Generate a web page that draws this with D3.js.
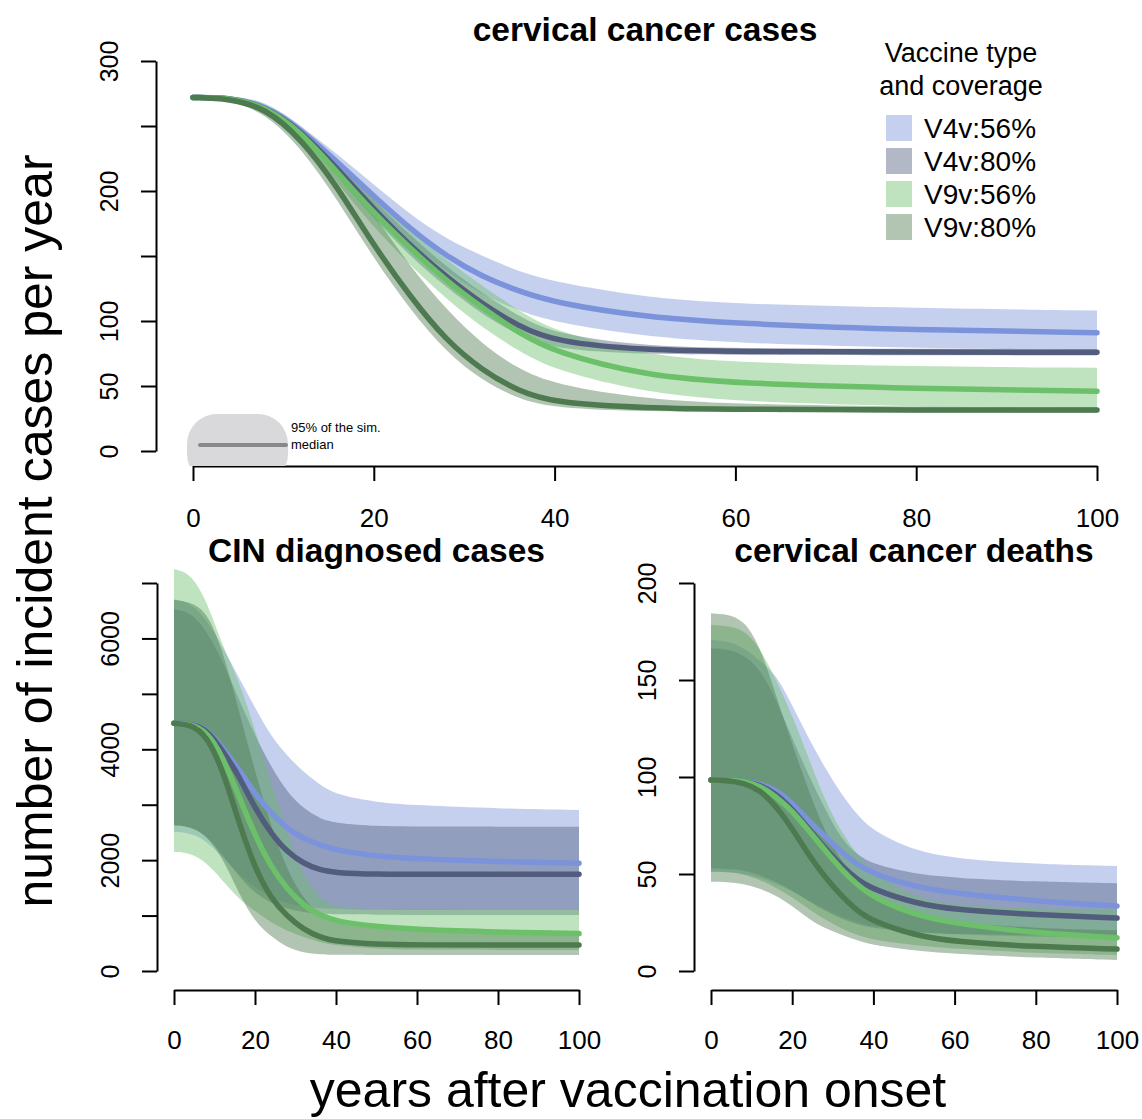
<!DOCTYPE html>
<html><head><meta charset="utf-8">
<script src="https://cdn.jsdelivr.net/npm/d3@7"></script>
<style>
body{margin:0;background:#fff;}
svg{display:block;font-family:"Liberation Sans",Arial,Helvetica,sans-serif;}
</style></head>
<body>
<svg id="chart" width="1142" height="1119"></svg>
<script>
// ---------------- data ----------------
const years = [0,4,8,12,16,20,24,28,32,36,40,50,60,80,100];
const seriesNames = ["V4v:56%","V4v:80%","V9v:56%","V9v:80%"];
const lineColors = ["#7b93db","#525d7d","#6cc06a","#4e7a4f"];

// cervical cancer cases
const cases_V4v56_med = [272,272,266,247,222,196,171,150,134,123,114,103,98,93,91];
const cases_V4v56_lo  = [271,271,262,243,216,187,160,138,120,108,99,88,83,79,78];
const cases_V4v56_hi  = [273,273,270,250,228,205,182,163,150,138,130,118,113,110,108];
const cases_V4v80_med = [272,272,265,246,217,186,158,134,113,96,84,77.5,76.5,76,76];
const cases_V4v80_lo  = [271,271,262,242,211,179,150,126,105,89,78,74.5,74,73.5,73.5];
const cases_V4v80_hi  = [273,273,268,250,223,193,166,142,121,104,90,80.5,79,78.5,78.5];
const cases_V9v56_med = [272,272,265,245,214,183,156,131,110,91,76,58,52,48,46];
const cases_V9v56_lo  = [271,271,262,240,206,172,143,117,95,77,62,45,38,34,33];
const cases_V9v56_hi  = [273,273,268,250,222,194,170,147,127,108,92,74,68,65,64];
const cases_V9v80_med = [272,271,264,240,203,158,119,85,62,46,37,33,32,31.5,31.5];
const cases_V9v80_lo  = [271,270,260,233,193,148,109,76,54,40,33,30.5,30,29.5,29.5];
const cases_V9v80_hi  = [273,272,268,250,220,182,142,109,82,63,51,40,36,34,33.5];

// CIN diagnosed cases
const cin_V4v56_med = [4470,4465,4380,4030,3640,3190,2850,2560,2390,2270,2180,2070,2020,1970,1945];
const cin_V4v56_hi  = [6700,6650,6350,5850,5300,4750,4230,3880,3590,3360,3180,3040,2990,2930,2905];
const cin_V4v56_lo  = [2510,2490,2350,2050,1750,1500,1330,1220,1160,1130,1115,1105,1100,1100,1100];
const cin_V4v80_med = [4470,4465,4370,3980,3530,2930,2480,2140,1940,1820,1770,1745,1745,1745,1745];
const cin_V4v80_hi  = [6525,6480,6150,5600,4900,4250,3680,3220,2930,2750,2665,2610,2605,2603,2603];
const cin_V4v80_lo  = [2630,2610,2450,2100,1700,1400,1220,1120,1060,1035,1022,1015,1012,1010,1010];
const cin_V9v56_med = [4470,4460,4330,3880,3150,2450,1870,1470,1180,1010,890,800,745,700,675];
const cin_V9v56_hi  = [7250,7180,6700,5850,5250,4350,3400,2480,1720,1310,1140,1110,1105,1100,1100];
const cin_V9v56_lo  = [2150,2130,1960,1630,1300,1080,870,720,610,520,460,400,385,380,379];
const cin_V9v80_med = [4470,4450,4260,3640,2680,1850,1300,980,750,610,530,480,470,468,468];
const cin_V9v80_hi  = [6700,6650,6500,5800,4700,3600,2600,1800,1300,1000,850,760,730,715,709];
const cin_V9v80_lo  = [2630,2610,2450,2050,1400,880,620,420,330,300,292,290,289,289,289];

// cervical cancer deaths
const deaths_V4v56_med = [98.5,98.4,97.8,96.5,93.5,86.5,77.5,69.5,61.5,54.8,50,43.5,40,36,33.5];
const deaths_V4v56_hi  = [170.6,170,167,160,153,137,120,105,91.5,80.5,72,62,58,55,54.1];
const deaths_V4v56_lo  = [51.2,51,50.3,48,45,41,36.5,32,28,25,23,20,18.8,17.5,17];
const deaths_V4v80_med = [98.5,98.4,97.8,96,91.5,83.5,73.5,63.5,54.5,47,42,35,31.5,29,27.3];
const deaths_V4v80_hi  = [166.3,166,163,156,140,120,101,84,68,60,55,50,48,46,45.2];
const deaths_V4v80_lo  = [52.9,52.7,52,49.5,46,41.5,36,31,27,24,22,20,19,18.3,18];
const deaths_V9v56_med = [98.5,98.4,97.8,95.5,90,82.5,72.5,62.5,52.5,44.5,37.8,29,24.5,19.5,17.2];
const deaths_V9v56_hi  = [178.4,178,176,167,150,132,110,88,72,60,50,38,34,32,31.4];
const deaths_V9v56_lo  = [51.2,51,50,47,43,38,32,26.5,22,18.5,16,13.3,11.5,9.2,8.2];
const deaths_V9v80_med = [98.5,98.3,97,93.5,85,73.5,60,48.5,39,31,25.5,18.5,15,12.5,11.3];
const deaths_V9v80_hi  = [184.4,184,181,168,142,117,93,72,57,46,38.5,29,25,22,21];
const deaths_V9v80_lo  = [46,45.8,45,42.5,39,33.5,27,22,18.8,15.7,13.3,10.5,8.8,6.8,5.7];

// ticks
const xTicks = [0,20,40,60,80,100];
const casesYTicks = [0,50,100,150,200,250,300];
const casesYLabels = ["0","50","100","","200","","300"];
const cinYTicks = [0,1000,2000,3000,4000,5000,6000,7000];
const cinYLabels = ["0","","2000","","4000","","6000",""];
const deathsYTicks = [0,50,100,150,200];
const deathsYLabels = ["0","50","100","150","200"];

// ---------------- drawing ----------------
const svg = d3.select("#chart");
const FILL_OP = 0.44;

function build(med, lo, hi){
  return years.map((y,i)=>({x:y, m:med[i], l:lo[i], h:hi[i]}));
}

function panel(o){
  const x = d3.scaleLinear().domain([0,100]).range(o.xr);
  const y = d3.scaleLinear().domain(o.yd).range(o.yr);
  const g = svg.append("g");
  const area = d3.area().curve(d3.curveBasis)
    .x(d=>x(d.x)).y0(d=>y(d.l)).y1(d=>y(d.h));
  const line = d3.line().curve(d3.curveBasis)
    .x(d=>x(d.x)).y(d=>y(d.m));
  o.series.forEach((s,i)=>{
    g.append("path").attr("d",area(s)).attr("fill",lineColors[i])
      .attr("fill-opacity",FILL_OP).attr("stroke","none");
  });
  o.series.forEach((s,i)=>{
    g.append("path").attr("d",line(s)).attr("fill","none")
      .attr("stroke",lineColors[i]).attr("stroke-width",5.5)
      .attr("stroke-linecap","round");
  });
  // y axis
  const ya = svg.append("g").attr("transform",`translate(${o.yAxisX},0)`)
    .call(d3.axisLeft(y).tickValues(o.yTicks).tickSize(15).tickSizeOuter(0)
      .tickFormat((d,i)=>o.yLabels[i]));
  ya.selectAll("text").attr("x",0).attr("dy",0).attr("text-anchor","middle")
    .attr("transform","translate(-38,0) rotate(-90)")
    .attr("font-size",25).attr("fill","#000")
    .style("font-family",'"Liberation Sans",Arial,sans-serif');
  // x axis
  const xa = svg.append("g").attr("transform",`translate(0,${o.xAxisY})`)
    .call(d3.axisBottom(x).tickValues(xTicks).tickSize(15).tickSizeOuter(0));
  xa.selectAll("text").attr("y",o.xLabY).attr("dy",0)
    .attr("font-size",26).attr("fill","#000")
    .style("font-family",'"Liberation Sans",Arial,sans-serif');
  [ya,xa].forEach(a=>{
    a.selectAll("path,line").attr("stroke","#000").attr("stroke-width",2);
  });
  svg.append("text").attr("x",(o.xr[0]+o.xr[1])/2).attr("y",o.titleY)
    .attr("text-anchor","middle").attr("font-weight","bold")
    .attr("font-size",33.5).text(o.title);
  return {x,y};
}

panel({
  xr:[193,1097], yd:[0,300], yr:[451,61], yAxisX:156, xAxisY:466, xLabY:61,
  yTicks:casesYTicks, yLabels:casesYLabels, titleY:41,
  title:"cervical cancer cases",
  series:[build(cases_V4v56_med,cases_V4v56_lo,cases_V4v56_hi),
          build(cases_V4v80_med,cases_V4v80_lo,cases_V4v80_hi),
          build(cases_V9v56_med,cases_V9v56_lo,cases_V9v56_hi),
          build(cases_V9v80_med,cases_V9v80_lo,cases_V9v80_hi)]
});
panel({
  xr:[174,579], yd:[0,7000], yr:[971,583], yAxisX:157, xAxisY:990, xLabY:59,
  yTicks:cinYTicks, yLabels:cinYLabels, titleY:562,
  title:"CIN diagnosed cases",
  series:[build(cin_V4v56_med,cin_V4v56_lo,cin_V4v56_hi),
          build(cin_V4v80_med,cin_V4v80_lo,cin_V4v80_hi),
          build(cin_V9v56_med,cin_V9v56_lo,cin_V9v56_hi),
          build(cin_V9v80_med,cin_V9v80_lo,cin_V9v80_hi)]
});
panel({
  xr:[711,1117], yd:[0,200], yr:[971,583], yAxisX:694, xAxisY:990, xLabY:59,
  yTicks:deathsYTicks, yLabels:deathsYLabels, titleY:562,
  title:"cervical cancer deaths",
  series:[build(deaths_V4v56_med,deaths_V4v56_lo,deaths_V4v56_hi),
          build(deaths_V4v80_med,deaths_V4v80_lo,deaths_V4v80_hi),
          build(deaths_V9v56_med,deaths_V9v56_lo,deaths_V9v56_hi),
          build(deaths_V9v80_med,deaths_V9v80_lo,deaths_V9v80_hi)]
});

// legend
const lg = svg.append("g");
lg.append("text").attr("x",961).attr("y",62).attr("text-anchor","middle")
  .attr("font-size",27).text("Vaccine type");
lg.append("text").attr("x",961).attr("y",95).attr("text-anchor","middle")
  .attr("font-size",27).text("and coverage");
seriesNames.forEach((n,i)=>{
  const cy = 128 + i*33;
  lg.append("rect").attr("x",886).attr("y",cy-13).attr("width",26).attr("height",26)
    .attr("fill",lineColors[i]).attr("fill-opacity",FILL_OP);
  lg.append("text").attr("x",924).attr("y",cy+10).attr("font-size",28).text(n);
});

// small band/median key
svg.append("clipPath").attr("id","keyclip").append("rect")
  .attr("x",150).attr("y",380).attr("width",200).attr("height",86);
svg.append("rect").attr("x",187).attr("y",414).attr("width",101).attr("height",70)
  .attr("rx",30).attr("ry",30).attr("fill","#d9d9db").attr("clip-path","url(#keyclip)");
svg.append("line").attr("x1",200).attr("x2",286).attr("y1",445).attr("y2",445)
  .attr("stroke","#888").attr("stroke-width",4).attr("stroke-linecap","round");
svg.append("text").attr("x",291).attr("y",432).attr("font-size",13).text("95% of the sim.");
svg.append("text").attr("x",291).attr("y",449).attr("font-size",13).text("median");

// axis titles
svg.append("text").attr("transform","translate(52,531) rotate(-90)")
  .attr("text-anchor","middle").attr("font-size",50)
  .text("number of incident cases per year");
svg.append("text").attr("x",628).attr("y",1107).attr("text-anchor","middle")
  .attr("font-size",50).text("years after vaccination onset");
</script>
</body></html>
